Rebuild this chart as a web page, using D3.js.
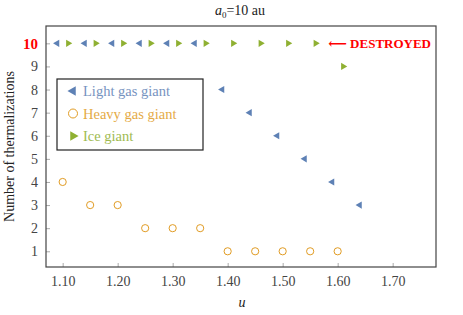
<!DOCTYPE html>
<html lang="en">
<head>
  <meta charset="UTF-8">
  <title>Thermalizations</title>
</head>
<body>
<style>
  * {
    padding: 0;
    margin: 0;
  }

  body {
    background: #fff;
  }

  #app {
    width: 463px;
    height: 315px;
  }

  #app svg {
    display: block;
  }
</style>

<div id="app"></div>

<script src="https://cdn.jsdelivr.net/npm/d3@7/dist/d3.min.js"></script>
<script>
  // u values and number of thermalizations (10 = destroyed)
  var lightU = [1.10, 1.15, 1.20, 1.25, 1.30, 1.35, 1.40, 1.45, 1.50, 1.55, 1.60, 1.65]
  var lightN = [10, 10, 10, 10, 10, 10, 8, 7, 6, 5, 4, 3]

  var heavyU = [1.10, 1.15, 1.20, 1.25, 1.30, 1.35, 1.40, 1.45, 1.50, 1.55, 1.60]
  var heavyN = [4, 3, 3, 2, 2, 2, 1, 1, 1, 1, 1]

  var iceU = [1.10, 1.15, 1.20, 1.25, 1.30, 1.35, 1.40, 1.45, 1.50, 1.55, 1.60]
  var iceN = [10, 10, 10, 10, 10, 10, 10, 10, 10, 10, 9]

  var xTicks = [1.10, 1.20, 1.30, 1.40, 1.50, 1.60, 1.70]
  var yTicks = [1, 2, 3, 4, 5, 6, 7, 8, 9, 10]

  var seriesNames = ['Light gas giant', 'Heavy gas giant', 'Ice giant']
  var colors = ['#5e81b5', '#e19c24', '#8fb032']

  var FONT = "'Liberation Serif', 'DejaVu Serif', serif"

  function draw() {
    var W = 463, H = 315
    var margin = {left: 46, right: 27, top: 26, bottom: 48}
    var svg = d3.select('#app').append('svg').attr('width', W).attr('height', H)
      .style('font-family', FONT)

    var x = d3.scaleLinear().domain([1.0697, 1.7788]).range([margin.left, W - margin.right])
    var y = d3.scaleLinear().domain([0.32, 10.75]).range([H - margin.bottom, margin.top])
    var dodge = 0.01 // overlapping markers are shifted sideways

    // axes with inward ticks
    var xAxis = svg.append('g').attr('transform', 'translate(0,' + (H - margin.bottom) + ')')
      .call(d3.axisBottom(x).tickValues(xTicks).tickSizeInner(-4).tickSizeOuter(0).tickPadding(9)
        .tickFormat(d3.format('.2f')))
    var yAxis = svg.append('g').attr('transform', 'translate(' + margin.left + ',0)')
      .call(d3.axisLeft(y).tickValues(yTicks).tickSizeInner(-4).tickSizeOuter(0).tickPadding(8))
    ;[xAxis, yAxis].forEach(function (a) {
      a.attr('font-family', FONT).attr('font-size', 14)
      a.select('.domain').remove()
      a.selectAll('.tick line').attr('stroke', '#aaa')
      a.selectAll('.tick text').style('font-family', FONT).attr('fill', '#444')
    })
    yAxis.selectAll('.tick text').filter(function (d) { return d === 10 })
      .attr('fill', '#f00').attr('font-weight', 'bold').attr('font-size', 15)

    // frame
    svg.append('rect')
      .attr('x', margin.left).attr('y', margin.top)
      .attr('width', W - margin.left - margin.right).attr('height', H - margin.top - margin.bottom)
      .attr('fill', 'none').attr('stroke', '#444').attr('stroke-width', 1.2)

    var tri = d3.symbol().type(d3.symbolTriangle).size(22)

    // light gas giant: left-pointing triangles
    svg.append('g').selectAll('path').data(lightU).join('path')
      .attr('d', tri)
      .attr('transform', function (d, i) {
        return 'translate(' + x(d - dodge) + ',' + y(lightN[i]) + ') rotate(-90)'
      })
      .attr('fill', colors[0])

    // ice giant: right-pointing triangles
    svg.append('g').selectAll('path').data(iceU).join('path')
      .attr('d', tri)
      .attr('transform', function (d, i) {
        return 'translate(' + x(d + dodge) + ',' + y(iceN[i]) + ') rotate(90)'
      })
      .attr('fill', colors[2])

    // heavy gas giant: open circles
    svg.append('g').selectAll('circle').data(heavyU).join('circle')
      .attr('cx', function (d) { return x(d) })
      .attr('cy', function (d, i) { return y(heavyN[i]) })
      .attr('r', 3.6)
      .attr('fill', 'none').attr('stroke', colors[1]).attr('stroke-width', 1)

    // destroyed annotation
    svg.append('text')
      .attr('x', 431).attr('y', y(10) + 4.5).attr('text-anchor', 'end')
      .attr('fill', '#f00').attr('font-weight', 'bold').attr('font-size', 13)
      .text('\u27f5 DESTROYED')

    // legend
    var lg = svg.append('g').attr('transform', 'translate(57,79)')
    lg.append('rect').attr('width', 146).attr('height', 71)
      .attr('fill', '#fff').attr('stroke', '#222').attr('stroke-width', 1.2)
    seriesNames.forEach(function (name, i) {
      var cy = 12 + i * 22.5
      var item = lg.append('g').attr('transform', 'translate(16,' + cy + ')')
      if (i === 1) {
        item.append('circle').attr('r', 4.5).attr('fill', 'none').attr('stroke', colors[1]).attr('stroke-width', 1)
      } else {
        item.append('path').attr('d', d3.symbol().type(d3.symbolTriangle).size(40))
          .attr('transform', 'rotate(' + (i === 0 ? -90 : 90) + ')')
          .attr('fill', colors[i])
      }
      lg.append('text').attr('x', 26).attr('y', cy + 5)
        .attr('font-size', 14.5).attr('fill', colors[i]).attr('opacity', 0.85)
        .text(name)
    })

    // title and axis labels
    var title = svg.append('text').attr('x', 240).attr('y', 15).attr('text-anchor', 'middle')
      .attr('font-size', 14).attr('fill', '#222')
    title.append('tspan').attr('font-style', 'italic').text('a')
    title.append('tspan').attr('font-size', 9).attr('dy', 3).text('0')
    title.append('tspan').attr('dy', -3).text('=10 au')

    svg.append('text').attr('x', 242).attr('y', 307).attr('text-anchor', 'middle')
      .attr('font-style', 'italic').attr('font-size', 14).attr('fill', '#222').text('u')

    svg.append('text')
      .attr('transform', 'translate(14,' + ((margin.top + H - margin.bottom) / 2) + ') rotate(-90)')
      .attr('text-anchor', 'middle').attr('font-size', 14).attr('fill', '#222')
      .text('Number of thermalizations')
  }

  draw()
</script>
</body>
</html>
